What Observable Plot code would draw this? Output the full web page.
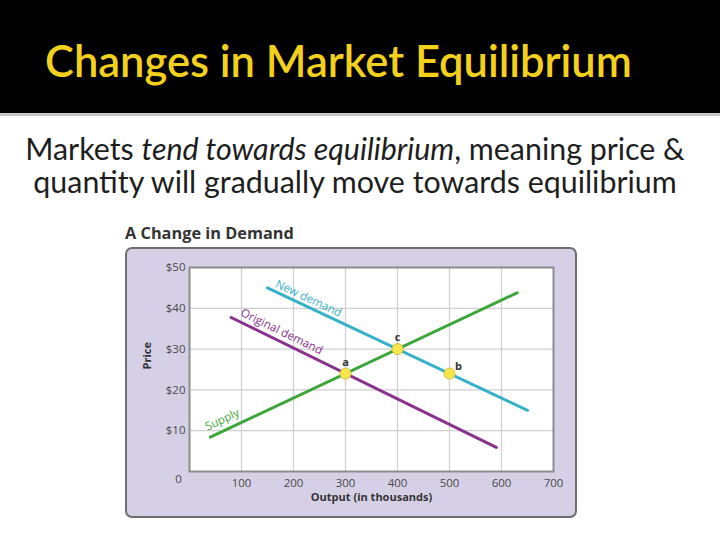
<!DOCTYPE html>
<html>
<head>
<meta charset="utf-8">
<script src="https://cdn.jsdelivr.net/npm/d3@7"></script>
<script src="https://cdn.jsdelivr.net/npm/@observablehq/plot@0.6"></script>
<style>
  body { margin: 0; background: #fff; }
  #page { position: relative; width: 720px; height: 539px; overflow: hidden; background: #fff; }
  #bg { position: absolute; left: 0; top: 0; }
  #chart { position: absolute; left: 120px; top: 240px; }
</style>
</head>
<body>
<div id="page">
  <svg id="bg" width="720" height="539" xmlns="http://www.w3.org/2000/svg">
    <rect x="0" y="0" width="720" height="113" fill="#000"></rect>
    <rect x="0" y="113" width="720" height="3" fill="#c6c6c6"></rect>
    <text id="title" x="45" y="77" fill="#f3d11b" font-family="Lato, 'Open Sans', sans-serif" font-weight="600">Changes in Market Equilibrium</text>
    <text id="sub1" x="355" y="160" text-anchor="middle" fill="#1e1e1e" font-family="Lato, 'Open Sans', sans-serif">Markets <tspan font-style="italic">tend towards equilibrium</tspan>, meaning price &amp;</text>
    <text id="sub2" x="355" y="193" text-anchor="middle" fill="#1e1e1e" font-family="Lato, 'Open Sans', sans-serif">quantity will gradually move towards equilibrium</text>
    <text id="ctitle" x="125" y="239" fill="#333" font-family="'Open Sans', sans-serif" font-weight="bold">A Change in Demand</text>
    <rect x="126" y="248" width="450" height="269" rx="6" ry="6" fill="#d6d0e7" stroke="#6e6e6e" stroke-width="2"></rect>
  </svg>
  <div id="chart"></div>
</div>
<script>
// ---- data ----
const xTicks = [100, 200, 300, 400, 500, 600, 700];
const yTicks = [10, 20, 30, 40, 50];
const gridXValues = [100, 200, 300, 400, 500, 600];
const gridYValues = [10, 20, 30, 40];

const supplyX = [40, 630];
const supplyY = [8.4, 43.8];
const originalDemandX = [80, 590];
const originalDemandY = [37.75, 5.9];
const newDemandX = [150, 650];
const newDemandY = [45, 15];

const pointNames = ["a", "c", "b"];
const pointX = [300, 400, 500];
const pointY = [24, 30, 24];

const lineLabels = ["New demand", "Original demand", "Supply"];
const lineLabelX = [229, 177, 63];
const lineLabelY = [42.4, 34.3, 12.7];

// ---- fit header texts ----
function fit(id, target) {
  const el = document.getElementById(id);
  el.setAttribute("font-size", 40);
  const w = el.getComputedTextLength();
  const fs = 40 * target / w;
  el.setAttribute("font-size", fs);
  return fs;
}
fit("title", 587);
const fsSub = fit("sub1", 660);
document.getElementById("sub2").setAttribute("font-size", fsSub);
fit("ctitle", 169);

const toRows = (xs, ys) => xs.map((x, i) => ({x, y: ys[i]}));
const supply = toRows(supplyX, supplyY);
const origD = toRows(originalDemandX, originalDemandY);
const newD = toRows(newDemandX, newDemandY);
const pts = pointNames.map((n, i) => ({n, x: pointX[i], y: pointY[i]}));
const labels = lineLabels.map((t, i) => ({t, x: lineLabelX[i], y: lineLabelY[i]}));

const cNew = "#35b2c9", cOrig = "#8a3190", cSup = "#3da63a";

const chart = Plot.plot({
  width: 460,
  height: 290,
  marginLeft: 69,
  marginRight: 27,
  marginTop: 27,
  marginBottom: 59,
  style: {background: "none", fontFamily: "'Open Sans', sans-serif", fontSize: "11px", overflow: "visible"},
  x: {domain: [0, 700]},
  y: {domain: [0, 50]},
  marks: [
    Plot.frame({fill: "white", stroke: null}),
    Plot.ruleX(gridXValues, {stroke: "#cfcfcf", strokeWidth: 1.2}),
    Plot.ruleY(gridYValues, {stroke: "#cfcfcf", strokeWidth: 1.2}),
    Plot.frame({stroke: "#8c8c8c", strokeWidth: 2}),
    Plot.axisX(xTicks, {tickSize: 0, tickPadding: 7, label: null, fill: "#4a4a4a", fontSize: 11.5}),
    Plot.axisY(yTicks, {tickSize: 0, tickPadding: 4, label: null, fill: "#4a4a4a", fontSize: 11.5, tickFormat: d => "$" + d}),
    Plot.text(["0"], {x: 0, frameAnchor: "bottom", dx: -11, dy: 11, fill: "#4a4a4a", fontSize: 11.5}),
    Plot.text(["Output (in thousands)"], {frameAnchor: "bottom", dy: 29, fill: "#333", fontWeight: "bold", fontSize: 11}),
    Plot.text(["Price"], {frameAnchor: "left", dx: -42, rotate: -90, fill: "#333", fontWeight: "bold", fontSize: 11}),
    Plot.line(origD, {x: "x", y: "y", stroke: cOrig, strokeWidth: 3}),
    Plot.line(newD, {x: "x", y: "y", stroke: cNew, strokeWidth: 3}),
    Plot.line(supply, {x: "x", y: "y", stroke: cSup, strokeWidth: 3}),
    Plot.text(labels.slice(0, 1), {x: "x", y: "y", text: "t", rotate: 25, fill: cNew, fontSize: 11.5}),
    Plot.text(labels.slice(1, 2), {x: "x", y: "y", text: "t", rotate: 26, fill: cOrig, fontSize: 11.5}),
    Plot.text(labels.slice(2, 3), {x: "x", y: "y", text: "t", rotate: -25, fill: cSup, fontSize: 11.5}),
    Plot.dot(pts, {x: "x", y: "y", r: 5.5, fill: "#f4e64c", stroke: "#d3bf36", strokeWidth: 1}),
    Plot.text(pts.slice(0, 1), {x: "x", y: "y", text: "n", dy: -11, fontWeight: "bold", fill: "#333", fontSize: 11}),
    Plot.text(pts.slice(1, 2), {x: "x", y: "y", text: "n", dy: -12, fontWeight: "bold", fill: "#333", fontSize: 11}),
    Plot.text(pts.slice(2, 3), {x: "x", y: "y", text: "n", dx: 9, dy: -7, fontWeight: "bold", fill: "#333", fontSize: 11})
  ]
});
document.getElementById("chart").appendChild(chart);
</script>
</body>
</html>
